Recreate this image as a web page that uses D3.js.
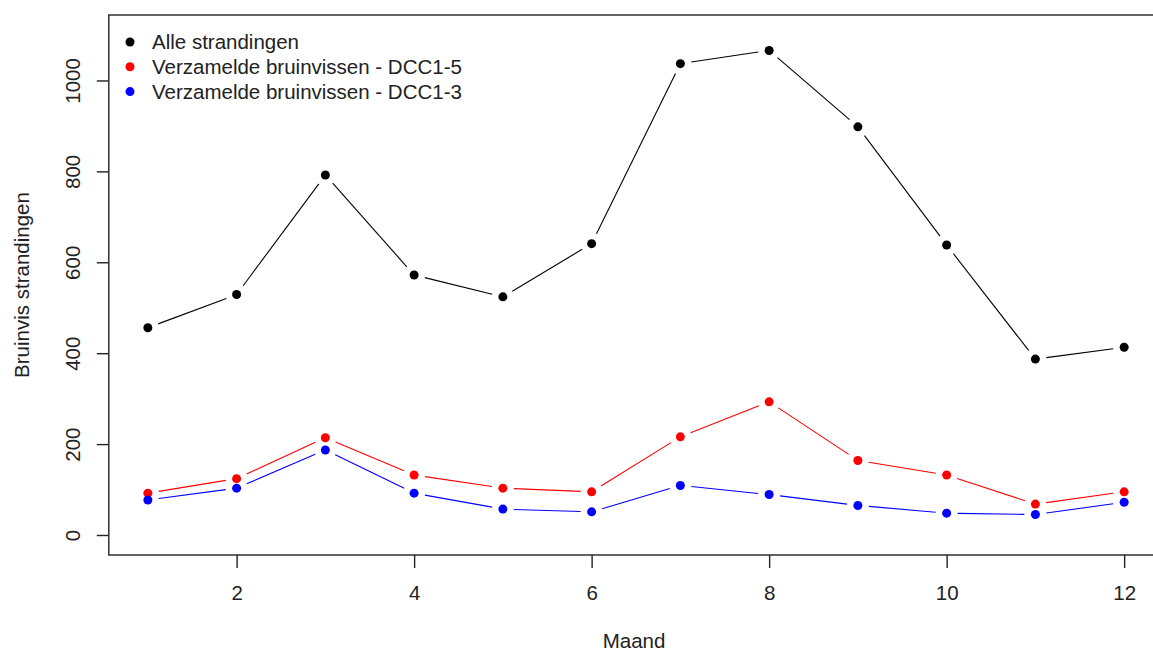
<!DOCTYPE html>
<html>
<head>
<meta charset="utf-8">
<script src="https://cdn.jsdelivr.net/npm/d3@7"></script>
<style>
  body { margin: 0; background: #fff; }
  svg text { font-family: "Liberation Sans", Arial, sans-serif; fill: #222; }
</style>
</head>
<body>
<div id="chart"></div>
<script>
// --> DATA
var months = [1, 2, 3, 4, 5, 6, 7, 8, 9, 10, 11, 12];
var alleStrandingen = [456, 529, 792, 572, 524, 641, 1037, 1066, 898, 638, 387, 413];
var dcc15 = [92, 124, 214, 132, 103, 95, 216, 293, 164, 132, 68, 95];
var dcc13 = [77, 103, 187, 92, 57, 51, 109, 89, 65, 48, 45, 72];
var yTicks = [0, 200, 400, 600, 800, 1000];
var xTicks = [2, 4, 6, 8, 10, 12];
var seriesNames = ["Alle strandingen", "Verzamelde bruinvissen - DCC1-5", "Verzamelde bruinvissen - DCC1-3"];
var seriesColors = ["#000000", "#ff0000", "#0000ff"];

var series = [alleStrandingen, dcc15, dcc13].map(function(vals, i) {
    return { name: seriesNames[i], color: seriesColors[i], values: vals };
});

var fontSize = "20.5px";

// --> SVG
var width = 1153,
    height = 652;

var svg = d3.select("#chart").append("svg")
    .attr("width", width)
    .attr("height", height);

// R style: xlim 1..12 padded by 4%, ylim 0..1100 padded by 4%
var x = d3.scaleLinear()
    .domain([0.56, 12.44])
    .range([108.8, 1163.2]);

var y = d3.scaleLinear()
    .domain([-44, 1144])
    .range([555, 15]);

// plot box (right side runs off the picture)
svg.append("rect")
    .attr("x", x.range()[0])
    .attr("y", y.range()[1])
    .attr("width", x.range()[1] - x.range()[0])
    .attr("height", y.range()[0] - y.range()[1])
    .attr("fill", "none")
    .attr("stroke", "#222")
    .attr("stroke-width", 1.4);

// x axis
var xAxis = d3.axisBottom(x)
    .tickValues(xTicks)
    .tickSize(13)
    .tickPadding(17)
    .tickFormat(d3.format("d"));

var gx = svg.append("g")
    .attr("transform", "translate(0," + y.range()[0] + ")")
    .call(xAxis);
gx.select(".domain").remove();
gx.selectAll("line").attr("stroke", "#222").attr("stroke-width", 1.4);
gx.selectAll("text").style("font-size", fontSize).attr("fill", "#222");

// y axis, labels parallel to the axis like R's las=0
var yAxis = d3.axisLeft(y)
    .tickValues(yTicks)
    .tickSize(12)
    .tickFormat(d3.format("d"));

var gy = svg.append("g")
    .attr("transform", "translate(" + x.range()[0] + ",0)")
    .call(yAxis);
gy.select(".domain").remove();
gy.selectAll("line").attr("stroke", "#222").attr("stroke-width", 1.4);
gy.selectAll("text")
    .style("font-size", fontSize)
    .attr("fill", "#222")
    .attr("x", 0)
    .attr("dy", null)
    .attr("text-anchor", "middle")
    .attr("transform", "translate(-29,0) rotate(-90)");

// axis titles
svg.append("text")
    .attr("x", 634)
    .attr("y", 648)
    .attr("text-anchor", "middle")
    .style("font-size", fontSize)
    .text("Maand");

svg.append("text")
    .attr("transform", "translate(29,285) rotate(-90)")
    .attr("text-anchor", "middle")
    .style("font-size", fontSize)
    .text("Bruinvis strandingen");

// --> LINES, type = "b": segments stop short of each point
var gap = 11;

series.forEach(function(s) {
    var g = svg.append("g");
    var pts = s.values.map(function(v, i) { return [x(months[i]), y(v)]; });

    for (var i = 0; i < pts.length - 1; i++) {
        var p = pts[i], q = pts[i + 1];
        var dx = q[0] - p[0], dy = q[1] - p[1];
        var len = Math.sqrt(dx * dx + dy * dy);
        if (len <= 2 * gap) continue;
        var ux = dx / len, uy = dy / len;
        g.append("line")
            .attr("x1", p[0] + ux * gap)
            .attr("y1", p[1] + uy * gap)
            .attr("x2", q[0] - ux * gap)
            .attr("y2", q[1] - uy * gap)
            .attr("stroke", s.color)
            .attr("stroke-width", 1.1);
    }

    g.selectAll("circle")
        .data(s.values)
        .enter().append("circle")
        .attr("cx", function(d, i) { return x(months[i]); })
        .attr("cy", function(d) { return y(d); })
        .attr("r", 4.5)
        .attr("fill", s.color);
});

// --> LEGEND
var legend = svg.append("g")
    .attr("transform", "translate(130,42)");

var rows = legend.selectAll("g")
    .data(series)
    .enter().append("g")
    .attr("transform", function(d, i) { return "translate(0," + (i * 24.8) + ")"; });

rows.append("circle")
    .attr("r", 4.5)
    .attr("fill", function(d) { return d.color; });

rows.append("text")
    .attr("x", 22)
    .attr("dy", "0.35em")
    .style("font-size", fontSize)
    .text(function(d) { return d.name; });
</script>
</body>
</html>
